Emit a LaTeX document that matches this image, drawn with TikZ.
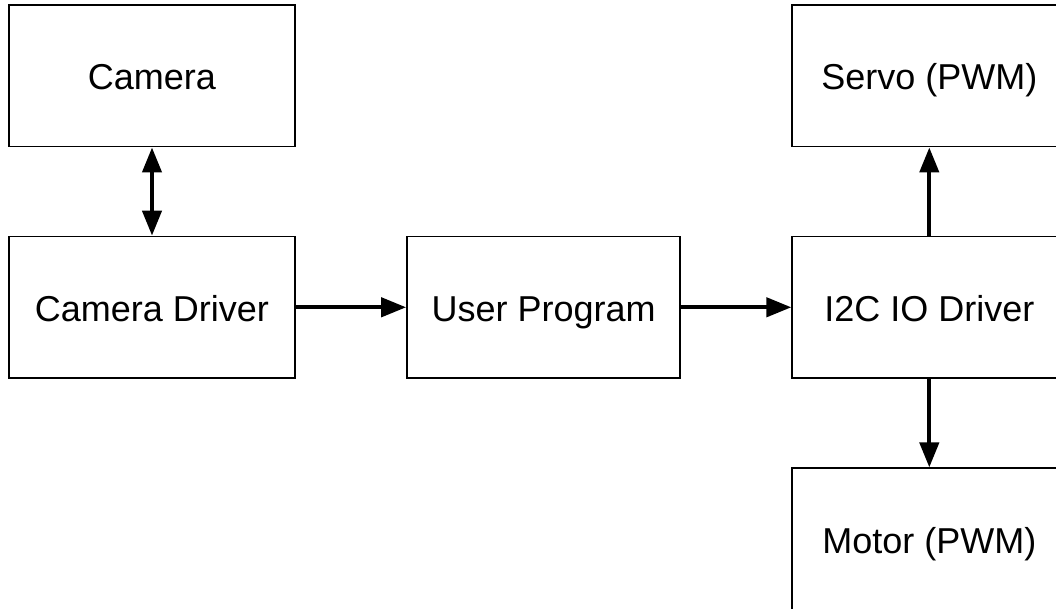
\documentclass[tikz,border=0pt]{standalone}
\usepackage{fontspec}
\setmainfont{Liberation Sans}
\usetikzlibrary{arrows.meta}
\begin{document}
\begin{tikzpicture}[x=1pt,y=1pt,
  box/.style={draw=black,line width=1.8pt,fill=white,minimum width=#1,minimum height=141.5pt,inner sep=0pt,text height=30pt,text depth=1.6pt,font=\fontsize{36}{40}\selectfont},
  box/.default=285pt,
  conn/.style={line width=4.2pt,-{Triangle[width=19pt,length=25pt]}},
  conn2/.style={line width=4.2pt,{Triangle[width=19pt,length=25pt]}-{Triangle[width=19pt,length=25pt]}}]
\useasboundingbox (0,0) rectangle (1056,609);
\clip (0,0) rectangle (1056,609);
\fill[white] (0,0) rectangle (1056,609);
\node[box=285.4pt] (cam) at (152,533.2) {Camera};
\node[box=285.4pt] (camdrv) at (152,301.7) {Camera Driver};
\node[box=273pt] (user) at (543.6,301.7) {User Program};
\node[box=274pt] (i2c) at (929.3,301.7) {I2C IO Driver};
\node[box=274pt] (servo) at (929.3,533.2) {Servo (PWM)};
\node[box=274pt] (motor) at (929.3,69.9) {Motor (PWM)};
\draw[conn2] (cam.south) -- (camdrv.north);
\draw[conn] (camdrv.east) -- (user.west);
\draw[conn] (user.east) -- (i2c.west);
\draw[conn] (i2c.north) -- (servo.south);
\draw[conn] (i2c.south) -- (motor.north);
\end{tikzpicture}
\end{document}
